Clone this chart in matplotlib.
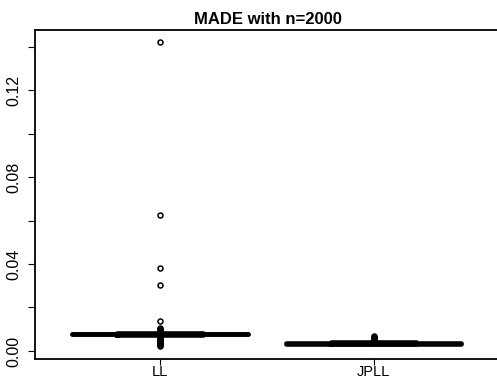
import numpy as np
import matplotlib
matplotlib.use("Agg")
import matplotlib.pyplot as plt

plt.rcParams['font.family'] = ['Liberation Sans', 'DejaVu Sans']

labels = ["LL", "JPLL"]
medians = [0.0077, 0.0035]
q1s = [0.0072, 0.0030]
q3s = [0.0082, 0.0040]
whislos = [0.0076, 0.0034]
whishis = [0.0078, 0.0036]
fliers_ll = [0.1421, 0.0626, 0.0383, 0.0302, 0.0136, 0.0104, 0.0100, 0.0096,
             0.0092, 0.0088, 0.0066, 0.0061, 0.0056, 0.0051, 0.0046, 0.0041,
             0.0036, 0.0031, 0.0026, 0.0021]
fliers_jpll = [0.0069, 0.0064, 0.0059, 0.0054, 0.0049, 0.0044]
yticks_major = [0.00, 0.04, 0.08, 0.12]
yticks_minor = [0.02, 0.06, 0.10, 0.14]

stats = []
for i, lab in enumerate(labels):
    stats.append(dict(label=lab, med=medians[i], q1=q1s[i], q3=q3s[i],
                      whislo=whislos[i], whishi=whishis[i],
                      fliers=[fliers_ll, fliers_jpll][i]))

fig = plt.figure(figsize=(4.97, 3.78), dpi=100)
W, H = 497, 378
ax = fig.add_axes([35 / W, (H - 359) / H, (502 - 35) / W, (359 - 30) / H])

ax.bxp(stats, positions=[1, 2], widths=0.40, capwidths=0.82,
       boxprops=dict(color='black', linewidth=3.3),
       medianprops=dict(color='black', linewidth=3.3),
       whiskerprops=dict(color='black', linewidth=3.3),
       capprops=dict(color='black', linewidth=3.3, solid_capstyle='round'),
       flierprops=dict(marker='o', markerfacecolor='none', markeredgecolor='black',
                       markersize=3.6, markeredgewidth=1.1, linestyle='none'))

ax.set_xlim(0.416, 2.6)
ax.set_ylim(-0.00368, 0.14759)

ax.set_yticks(yticks_major)
ax.set_yticklabels(["%.2f" % v for v in yticks_major], rotation=90, va='center',
                   fontsize=11.5)
ax.set_yticks(yticks_minor, minor=True)
ax.tick_params(axis='y', which='both', length=5, width=0.8, pad=5)
ax.tick_params(axis='x', length=4, width=0.8, pad=0, labelsize=10.5)
ax.set_xticks([1, 2])
ax.set_xticklabels(labels)

for s in ['top', 'bottom', 'left']:
    ax.spines[s].set_linewidth(1.3)
ax.spines['right'].set_visible(False)

fig.text(268 / W, 1 - 19 / H, "MADE with n=2000", ha='center', va='center',
         fontsize=12, fontweight='bold')

fig.savefig("out.png", dpi=100)
